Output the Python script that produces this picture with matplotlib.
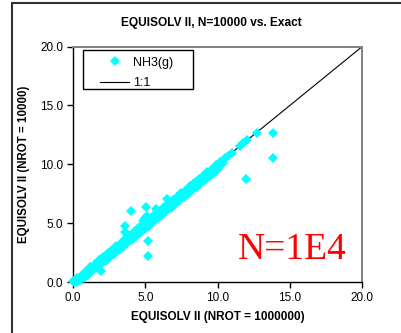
import numpy as np
import matplotlib
matplotlib.use('Agg')
import matplotlib.pyplot as plt
from matplotlib.lines import Line2D
from matplotlib.patches import Rectangle

plt.rcParams['font.family'] = ['Liberation Sans', 'DejaVu Sans']

# bulk of the points, along the 1:1 line
band_x_upper = [0.0, 0.3, 0.6, 0.9, 1.2, 1.5, 1.8, 2.1, 2.4, 2.7, 3.0, 3.3, 3.6, 3.9,
                4.2, 4.5, 4.8, 5.1, 5.4, 5.7, 6.0, 6.3, 6.6, 6.9, 7.2, 7.5, 7.8, 8.1,
                8.4, 8.7, 9.0, 9.3, 9.6, 9.9, 10.2, 10.5, 10.7]
band_y_upper = [0.05, 0.33, 0.64, 0.94, 1.24, 1.55, 1.84, 2.15, 2.44, 2.75, 3.04, 3.35,
                3.65, 3.95, 4.24, 4.55, 4.85, 5.14, 5.45, 5.75, 6.04, 6.35, 6.64, 6.94,
                7.25, 7.54, 7.84, 8.14, 8.44, 8.74, 9.04, 9.33, 9.63, 9.92, 10.21, 10.5,
                10.7]
band_x_mid = [0.15, 0.45, 0.75, 1.05, 1.35, 1.65, 1.95, 2.25, 2.55, 2.85, 3.15, 3.45,
              3.75, 4.05, 4.35, 4.65, 4.95, 5.25, 5.55, 5.85, 6.15, 6.45, 6.75, 7.05,
              7.35, 7.65, 7.95, 8.25, 8.55, 8.85, 9.15, 9.45, 9.75, 10.05, 10.35]
band_y_mid = [0.0, 0.24, 0.54, 0.84, 1.14, 1.44, 1.74, 2.04, 2.34, 2.64, 2.94, 3.24,
              3.54, 3.84, 4.14, 4.44, 4.74, 5.04, 5.34, 5.64, 5.94, 6.24, 6.54, 6.84,
              7.14, 7.44, 7.74, 8.04, 8.34, 8.64, 8.94, 9.24, 9.54, 9.84, 10.12]
band_x_lower = [0.05, 0.3, 0.45, 0.75, 1.05, 1.35, 1.65, 1.95, 2.25, 2.55, 2.85, 3.15,
                3.45, 3.75, 4.05, 4.35, 4.65, 4.95, 5.25, 5.55, 5.85, 6.15, 6.45, 6.75,
                7.05, 7.35, 7.65, 7.95, 8.25, 8.55, 8.85, 9.15, 9.45, 9.75, 10.05]
band_y_lower = [0.0, 0.0, 0.05, 0.32, 0.6, 0.9, 1.2, 1.5, 1.8, 2.1, 2.4, 2.7, 3.0, 3.3,
                3.6, 3.9, 4.2, 4.5, 4.8, 5.1, 5.4, 5.7, 6.0, 6.3, 6.6, 6.9, 7.2, 7.5, 7.8,
                8.1, 8.4, 8.7, 9.0, 9.3, 9.62]

# points off the band
other_x = [1.92, 3.6, 3.62, 4.01, 4.85, 4.95, 5.03, 5.1, 5.19, 5.21, 5.74, 5.8, 6.48,
           10.98, 11.56, 11.79, 11.97, 12.06, 12.71, 13.86, 13.86]
other_y = [0.96, 4.26, 4.75, 6.04, 5.15, 5.4, 6.38, 5.6, 2.2, 3.5, 6.24, 6.1, 7.09,
           10.99, 11.6, 11.8, 8.73, 12.09, 12.68, 12.68, 10.57]

nh3_x = band_x_upper + band_x_mid + band_x_lower + other_x
nh3_y = band_y_upper + band_y_mid + band_y_lower + other_y

one_to_one = [0, 20]
ticks = [0, 5, 10, 15, 20]

fig = plt.figure(figsize=(4.01, 3.33), dpi=100)
ax = fig.add_axes([0.182, 0.153, 0.721, 0.707])

# outer chart border (left and top edges only are visible)
fig.patches.append(Rectangle((12 / 401, -0.1), 1.2, 1.1 - 3 / 333, transform=fig.transFigure,
                             fill=False, edgecolor='#303030', linewidth=1.5))

ax.plot(one_to_one, one_to_one, color='black', linewidth=0.8, zorder=2)
ax.plot(nh3_x, nh3_y, linestyle='none', marker='D', markersize=5.0, color='#00FFFF',
        markeredgewidth=0, zorder=3, clip_on=False)

ax.set_xlim(0, 20)
ax.set_ylim(0, 20)
ax.set_xticks(ticks)
ax.set_yticks(ticks)
ax.set_xticklabels([f'{t:.1f}' for t in ticks])
ax.set_yticklabels([f'{t:.1f}' for t in ticks])
ax.tick_params(direction='out', length=4, width=1, labelsize=8.5, pad=3)

ax.spines['top'].set_color('#808080')
ax.spines['right'].set_color('#808080')
ax.spines['top'].set_linewidth(1.4)
ax.spines['right'].set_linewidth(1.4)
ax.spines['left'].set_linewidth(1)
ax.spines['bottom'].set_linewidth(1)

ax.set_xlabel('EQUISOLV II (NROT = 1000000)', fontsize=8.5, fontweight='bold', labelpad=5)
ax.set_ylabel('EQUISOLV II (NROT = 10000)', fontsize=8.3, fontweight='bold', labelpad=7)
fig.text(0.527, 0.932, 'EQUISOLV II, N=10000 vs. Exact', ha='center', va='center',
         fontsize=8.6, fontweight='bold')

ax.text(11.42, 1.95, 'N=1E4', color='red', fontsize=27, family='Liberation Serif',
        ha='left', va='baseline')

# legend: frame drawn separately so it can be wider than its entries
ax.add_patch(Rectangle((0.035, 0.818), 0.38, 0.169, transform=ax.transAxes, fill=False,
                       edgecolor='black', linewidth=1, zorder=5))
handles = [Line2D([], [], linestyle='none', marker='D', markersize=5.0, color='#00FFFF',
                  markeredgewidth=0),
           Line2D([], [], color='black', linewidth=0.8)]
leg = ax.legend(handles, ['NH3(g)', '1:1'], loc='upper left',
                bbox_to_anchor=(0.093, 0.958), fontsize=9, frameon=False,
                handlelength=2.35, borderpad=0, labelspacing=0.7, handletextpad=0.3,
                borderaxespad=0)

fig.savefig('out.png', dpi=100)
